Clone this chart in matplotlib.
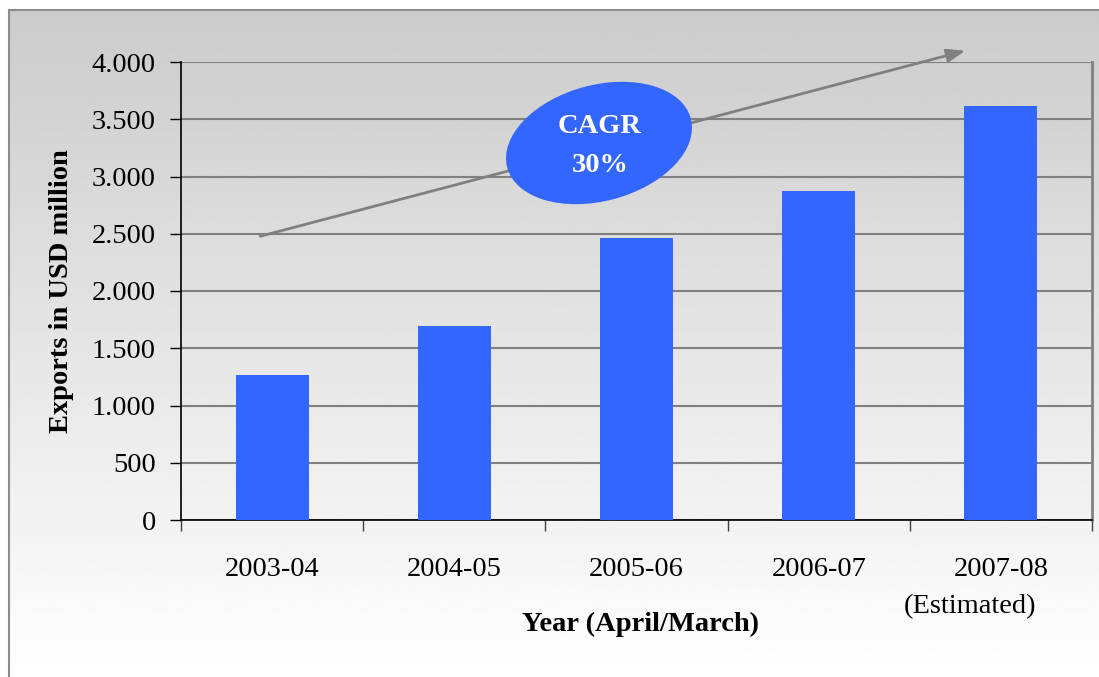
import numpy as np
import matplotlib.pyplot as plt
from matplotlib.patches import Ellipse, Rectangle

years = ['2003-04', '2004-05', '2005-06', '2006-07', '2007-08']
exports = [1270, 1690, 2465, 2870, 3615]
yticks = [0, 500, 1000, 1500, 2000, 2500, 3000, 3500, 4000]
ytick_labels = ['0', '500', '1.000', '1.500', '2.000', '2.500', '3.000', '3.500', '4.000']

plt.rcParams['font.family'] = ['Liberation Serif', 'DejaVu Serif']
FS = 20.5

W, H = 1099, 677
fig = plt.figure(figsize=(W / 100, H / 100), dpi=100)
fig.patch.set_facecolor('white')

# gradient background inside the outer frame
bg = fig.add_axes([9 / W, 0, 1 - 9 / W, 1 - 10 / H], zorder=-10)
grad = np.linspace(0.796, 1.0, 256).reshape(-1, 1)
bg.imshow(grad, aspect='auto', cmap='gray', vmin=0, vmax=1, extent=[0, 1, 0, 1], origin='upper')
bg.set_axis_off()
fig.add_artist(Rectangle((9 / W, -0.05), 1.2, 1 - 10 / H + 0.05, transform=fig.transFigure,
                         fill=False, edgecolor='#8c8c8c', lw=1.5, zorder=-5))

ax = fig.add_axes([181 / W, 157 / H, 911 / W, 458 / H])
ax.set_facecolor('none')
x = np.arange(len(years))
ax.bar(x, exports, width=0.4, color='#3366FF', zorder=3)

ax.set_xlim(-0.5, len(years) - 0.5)
ax.set_ylim(0, 4000)
ax.set_yticks(yticks, ytick_labels, fontsize=FS)
ax.yaxis.grid(True, color='#808080', lw=1.5, zorder=1)
ax.set_xticks(np.arange(-0.5, len(years)), minor=False)
ax.set_xticklabels([])
ax.set_xticks(x, minor=True)
ax.set_xticklabels(years, minor=True, fontsize=FS)
ax.tick_params(axis='x', which='minor', length=0, pad=27)
ax.tick_params(axis='x', which='major', length=8, width=1, color='#404040')
ax.tick_params(axis='y', length=8, width=1, pad=10)

ax.spines['top'].set_visible(False)
ax.spines['right'].set_color('#808080')
ax.spines['right'].set_linewidth(2)
ax.spines['left'].set_color('black')
ax.spines['bottom'].set_color('black')
ax.spines['left'].set_linewidth(1.2)
ax.spines['bottom'].set_linewidth(1.2)

ax.set_ylabel('Exports in USD million', fontsize=FS, fontweight='bold', labelpad=13)
fig.text(640 / W, 1 - 624 / H, 'Year (April/March)', fontsize=FS, fontweight='bold',
         ha='center', va='center')
fig.text(970 / W, 1 - 607 / H, '(Estimated)', fontsize=FS, ha='center', va='center')

# CAGR trend arrow
ax.annotate('', xy=(3.82, 4105), xytext=(-0.08, 2472),
            arrowprops=dict(arrowstyle='-|>,head_length=1.1,head_width=0.4',
                            color='#808080', lw=2),
            annotation_clip=False, zorder=4)

ell = Ellipse((599 / 100, (H - 143) / 100), 1.90, 1.16, angle=15,
              transform=fig.dpi_scale_trans, facecolor='#3366FF', edgecolor='none', zorder=5)
fig.add_artist(ell)
fig.text(600 / W, 1 - 146 / H, 'CAGR\n30%', color='white', fontsize=FS, fontweight='bold',
         ha='center', va='center', linespacing=1.75, zorder=6)

fig.savefig('out.png', dpi=100)
